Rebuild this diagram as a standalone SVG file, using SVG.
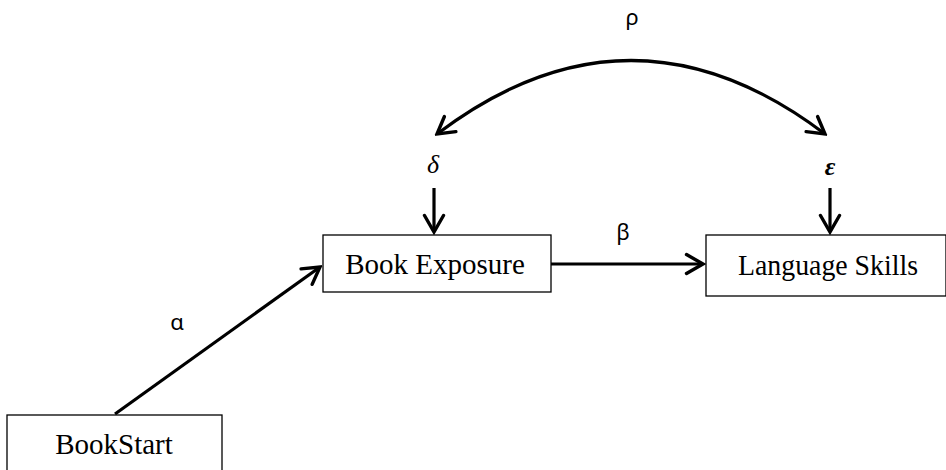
<svg xmlns="http://www.w3.org/2000/svg" width="946" height="470" viewBox="0 0 946 470">
  <defs>
    <style>
      .box { fill: #ffffff; stroke: #000000; stroke-width: 1.3; }
      .lbl { font-family: "Liberation Serif", "Times New Roman", serif; font-size: 29px; fill: #000; text-anchor: middle; }
      .greek { font-family: "Noto Sans", "DejaVu Sans", sans-serif; font-size: 22px; fill: #000; text-anchor: middle; }
      .gi { font-family: "Liberation Serif", "Times New Roman", serif; font-size: 26px; font-style: italic; fill: #000; text-anchor: middle; }
      .conn { fill: none; stroke: #000; stroke-width: 3.2; }
    </style>
    <marker id="ah" viewBox="0 0 22 24" refX="19.5" refY="12" markerWidth="22" markerHeight="24" markerUnits="userSpaceOnUse" orient="auto-start-reverse">
      <path d="M3,2.5 L19.5,12 L3,21.5" fill="none" stroke="#000" stroke-width="3.4" stroke-linecap="round" stroke-linejoin="miter"/>
    </marker>
  </defs>

  <g id="connectors">
    <line class="conn" x1="115" y1="414" x2="320" y2="267" marker-end="url(#ah)"/>
    <line class="conn" x1="551" y1="264" x2="703" y2="264" marker-end="url(#ah)"/>
    <line class="conn" x1="434" y1="188" x2="434" y2="232" marker-end="url(#ah)"/>
    <line class="conn" x1="830" y1="188" x2="830" y2="232" marker-end="url(#ah)"/>
    <path class="conn" d="M437,134 Q631,-13 825,134" marker-start="url(#ah)" marker-end="url(#ah)"/>
  </g>

  <g id="node-bookstart">
    <rect class="box" x="7" y="415" width="215" height="70"/>
    <text class="lbl" x="114" y="454">BookStart</text>
  </g>
  <g id="node-bookexposure">
    <rect class="box" x="323" y="235" width="228" height="57"/>
    <text class="lbl" x="435" y="274">Book Exposure</text>
  </g>
  <g id="node-languageskills">
    <rect class="box" x="706" y="235" width="240" height="61"/>
    <text class="lbl" x="828" y="275" textLength="180" lengthAdjust="spacingAndGlyphs">Language Skills</text>
  </g>

  <g id="labels">
    <text class="greek" x="177" y="330">α</text>
    <text class="greek" x="623" y="240">β</text>
    <text class="greek" x="632" y="25">ρ</text>
    <text class="gi" x="433" y="173">δ</text>
    <text class="gi" x="830" y="175" font-weight="bold">ε</text>
  </g>
</svg>
